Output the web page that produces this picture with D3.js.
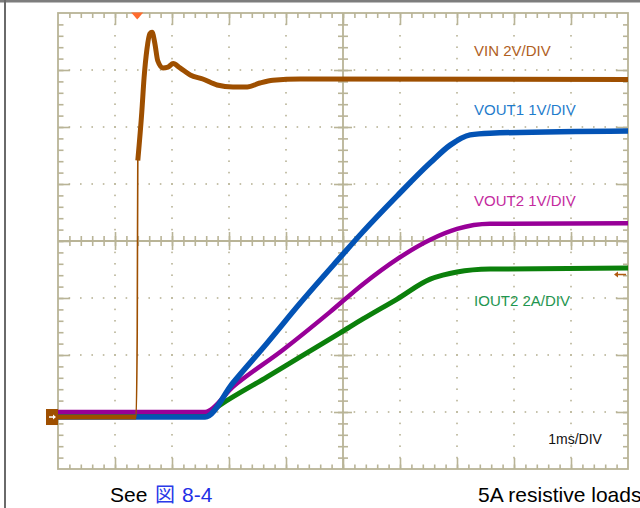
<!DOCTYPE html>
<html><head><meta charset="utf-8">
<script src="https://cdn.jsdelivr.net/npm/d3@7"></script>
<style>html,body{margin:0;padding:0;background:#fff;overflow:hidden}svg{display:block}</style>
</head><body>
<svg id="c" width="640" height="508"></svg>
<script>
// ---- data (time in ms, 1 ms/div; values in channel units) ----
const vinTime  = [0, 1.37, 1.39, 1.40, 1.47, 1.51, 1.56, 1.61, 1.65, 1.70, 1.75, 1.84, 1.93, 2.02, 2.14, 2.32, 2.54, 2.79, 3.07, 3.32, 3.54, 3.77, 4.25, 10];
const vinVolts = [0, 0, 3.0, 9.0, 10.7, 11.9, 12.9, 13.45, 13.5, 13.1, 12.5, 12.25, 12.28, 12.4, 12.25, 12.0, 11.86, 11.65, 11.58, 11.58, 11.72, 11.82, 11.86, 11.84];
const vout1Time  = [0, 2.58, 3.07, 3.67, 4.25, 4.95, 5.35, 5.95, 6.53, 6.88, 7.23, 7.58, 10];
const vout1Volts = [0, 0, 0.6, 1.3, 2.0, 2.8, 3.25, 3.88, 4.46, 4.77, 4.95, 4.98, 5.02];
const vout2Time  = [0, 2.58, 3.07, 3.95, 4.77, 5.35, 5.95, 6.53, 7.0, 7.58, 10];
const vout2Volts = [0.09, 0.09, 0.53, 1.18, 1.84, 2.33, 2.77, 3.11, 3.30, 3.39, 3.40];
const iout2Time  = [0, 2.58, 2.84, 3.67, 4.25, 4.95, 5.35, 5.95, 6.53, 6.75, 7.0, 7.58, 10];
const iout2Amps  = [0.07, 0.07, 0.42, 1.41, 2.11, 2.95, 3.44, 4.14, 4.84, 4.98, 5.09, 5.19, 5.23];
const channelNames = ["VIN", "VOUT1", "VOUT2", "IOUT2"];
const channelScales = [2, 1, 1, 2];          // units per division
const channelLabels = ["VIN 2V/DIV", "VOUT1 1V/DIV", "VOUT2 1V/DIV", "IOUT2 2A/DIV"];
const timebaseLabel = "1ms/DIV";
const groundDiv = 0.912;                     // ground level in divisions from bottom
const triggerTime = 1.39;
const vinEdgeStart = 1.37, vinEdgeEnd = 1.40; // fast edge drawn thin

// ---- layout ----
const svg = d3.select("#c");
const L = 58, R = 628, T = 13, B = 469;
const x = d3.scaleLinear().domain([0, 10]).range([L, R]);
const yDiv = d3.scaleLinear().domain([0, 8]).range([B, T]);
const chanY = s => d3.scaleLinear().domain([-groundDiv * s, (8 - groundDiv) * s]).range([B, T]);

// outer frame
svg.append("rect").attr("x", 0).attr("y", 0).attr("width", 640).attr("height", 2.5).attr("fill", "#7d7d7d");
svg.append("rect").attr("x", 4).attr("y", 0).attr("width", 2).attr("height", 508).attr("fill", "#6a6a6a");

const gridCol = "#b9b497";
const g = svg.append("g");

// dotted grid
const minorX = d3.range(0, 10.001, 0.2);
const minorY = d3.range(0, 8.001, 0.2);
const majorX = d3.range(1, 10, 1).filter(v => v !== 5);
const majorY = d3.range(1, 8, 1).filter(v => v !== 4);
majorY.forEach(dv => {
  g.selectAll(null).data(minorX.slice(1, -1)).join("rect")
    .attr("x", d => x(d) - 0.8).attr("y", yDiv(dv) - 0.8).attr("width", 1.6).attr("height", 1.6).attr("fill", gridCol);
});
majorX.forEach(dv => {
  g.selectAll(null).data(minorY.slice(1, -1)).join("rect")
    .attr("x", x(dv) - 0.8).attr("y", d => yDiv(d) - 0.8).attr("width", 1.6).attr("height", 1.6).attr("fill", gridCol);
});

// border
g.append("rect").attr("x", L).attr("y", T).attr("width", R - L).attr("height", B - T)
  .attr("fill", "none").attr("stroke", gridCol).attr("stroke-width", 1.8);
// center axes
g.append("line").attr("x1", L).attr("x2", R).attr("y1", yDiv(4)).attr("y2", yDiv(4)).attr("stroke", gridCol).attr("stroke-width", 1.8);
g.append("line").attr("x1", x(5)).attr("x2", x(5)).attr("y1", T).attr("y2", B).attr("stroke", gridCol).attr("stroke-width", 1.8);

function tickAxis(gen, scale, vals, size, tx, ty) {
  const a = g.append("g").attr("transform", `translate(${tx},${ty})`)
    .call(gen(scale).tickValues(vals).tickSize(size).tickSizeOuter(0).tickFormat(""));
  a.select(".domain").remove();
  a.selectAll("line").attr("stroke", gridCol).attr("stroke-width", 1.6);
}
const innerX = minorX.slice(1, -1), innerY = minorY.slice(1, -1);
const mX = d3.range(1, 10, 1), mY = d3.range(1, 8, 1);
tickAxis(d3.axisBottom, x, innerX, 5, 0, T);
tickAxis(d3.axisBottom, x, mX, 12, 0, T);
tickAxis(d3.axisTop, x, innerX, 4.5, 0, B);
tickAxis(d3.axisTop, x, mX, 11, 0, B);
tickAxis(d3.axisRight, yDiv, innerY, 5.5, L, 0);
tickAxis(d3.axisRight, yDiv, mY, 12, L, 0);
tickAxis(d3.axisLeft, yDiv, innerY, 5, R, 0);
tickAxis(d3.axisLeft, yDiv, mY, 12, R, 0);
tickAxis(d3.axisBottom, x, innerX, 5, 0, yDiv(4));
tickAxis(d3.axisTop, x, innerX, 5, 0, yDiv(4));
tickAxis(d3.axisBottom, x, mX, 9, 0, yDiv(4));
tickAxis(d3.axisTop, x, mX, 9, 0, yDiv(4));
tickAxis(d3.axisRight, yDiv, innerY, 5, x(5), 0);
tickAxis(d3.axisLeft, yDiv, innerY, 5, x(5), 0);
tickAxis(d3.axisRight, yDiv, mY, 9, x(5), 0);
tickAxis(d3.axisLeft, yDiv, mY, 9, x(5), 0);

// ---- traces ----
const traceCols = {VIN: "#9e4f00", VOUT1: "#0353b5", VOUT2: "#980098", IOUT2: "#0b800b"};
const labelCols = {VIN: "#b0601e", VOUT1: "#1f7ccc", VOUT2: "#c42a9e", IOUT2: "#1e9650"};
const series = {
  VIN: d3.zip(vinTime, vinVolts),
  VOUT1: d3.zip(vout1Time, vout1Volts),
  VOUT2: d3.zip(vout2Time, vout2Volts),
  IOUT2: d3.zip(iout2Time, iout2Amps)
};
const order = ["IOUT2", "VOUT2", "VOUT1", "VIN"];
const widths = {VIN: 5, VOUT1: 5.5, VOUT2: 4.5, IOUT2: 5};
order.forEach(name => {
  const i = channelNames.indexOf(name);
  const ys = chanY(channelScales[i]);
  const line = d3.line().x(d => x(d[0])).y(d => ys(d[1])).curve(d3.curveMonotoneX);
  const pts = series[name];
  if (name === "VIN") {
    svg.append("path").attr("d", line(pts)).attr("fill", "none")
      .attr("stroke", traceCols[name]).attr("stroke-width", 1.6);
    const pre = pts.filter(d => d[0] <= vinEdgeStart);
    const post = pts.filter(d => d[0] >= vinEdgeEnd);
    [pre, post].forEach(p => svg.append("path").attr("d", line(p)).attr("fill", "none")
      .attr("stroke", traceCols[name]).attr("stroke-width", widths[name]).attr("stroke-linejoin", "round"));
  } else {
    svg.append("path").attr("d", line(pts)).attr("fill", "none")
      .attr("stroke", traceCols[name]).attr("stroke-width", widths[name]).attr("stroke-linejoin", "round");
  }
});

// ---- channel labels ----
const labelDiv = {VIN: 7.25, VOUT1: 6.21, VOUT2: 4.61, IOUT2: 2.86};
channelNames.forEach((n, i) => {
  svg.append("text").attr("x", x(7.3)).attr("y", yDiv(labelDiv[n]))
    .attr("font-family", "Liberation Sans, Arial, sans-serif").attr("font-size", 15)
    .attr("fill", labelCols[n]).text(channelLabels[i]);
});
svg.append("text").attr("x", x(8.6)).attr("y", yDiv(0.44))
  .attr("font-family", "Liberation Sans, Arial, sans-serif").attr("font-size", 14)
  .attr("fill", "#111").text(timebaseLabel);

// ---- markers ----
const gy = yDiv(groundDiv);
svg.append("rect").attr("x", L - 12).attr("y", gy - 8).attr("width", 12).attr("height", 16).attr("fill", "#9e4f00");
svg.append("line").attr("x1", L - 9).attr("x2", L - 3).attr("y1", gy).attr("y2", gy).attr("stroke", "#fff").attr("stroke-width", 1.5);
svg.append("path").attr("d", `M${L - 2},${gy} l-3,-2.5 v5 z`).attr("fill", "#fff");
const tx = x(triggerTime);
svg.append("path").attr("d", `M${tx - 6},${T - 0.5} h12 l-6,7 z`).attr("fill", "#ff6b2e");
const tly = chanY(2)(5.0);
svg.append("line").attr("x1", R - 2).attr("x2", R - 12).attr("y1", tly).attr("y2", tly).attr("stroke", "#b05a10").attr("stroke-width", 1.5);
svg.append("path").attr("d", `M${R - 14},${tly} l4,-3 v6 z`).attr("fill", "#b05a10");

// ---- captions ----
const capFont = "Liberation Sans, Arial, sans-serif";
svg.append("text").attr("x", 110).attr("y", 502).attr("font-family", capFont).attr("font-size", 21).attr("fill", "#000").text("See");
svg.append("text").attr("x", 155).attr("y", 502).attr("font-family", "Noto Sans CJK JP, sans-serif").attr("font-size", 20).attr("fill", "#2a3ae8").text("図");
svg.append("text").attr("x", 182).attr("y", 502).attr("font-family", capFont).attr("font-size", 21).attr("fill", "#1f2fe6").text("8-4");
svg.append("text").attr("x", 478).attr("y", 502).attr("font-family", capFont).attr("font-size", 21).attr("fill", "#000")
  .text("5A resistive loads");
</script>
</body></html>
